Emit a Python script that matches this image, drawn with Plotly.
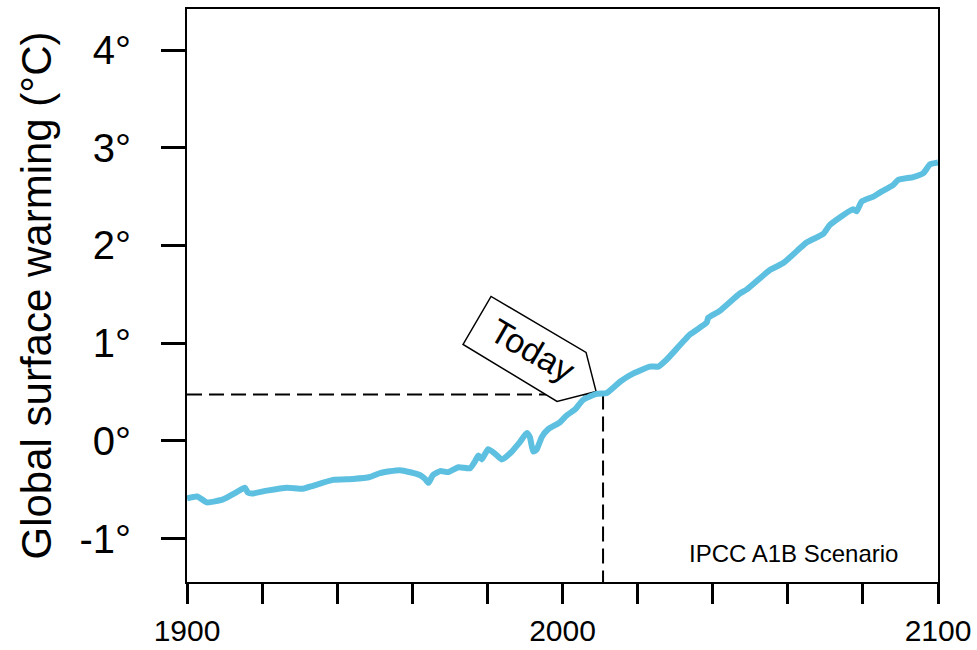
import plotly.graph_objects as go

# Global mean surface temperature anomaly, observed record then A1B projection
years = [1900, 1902.7, 1905.3, 1909.6, 1913.0, 1915.4, 1916.2, 1917.3, 1921.3, 1926.6,
         1930.9, 1933.6, 1938.9, 1944.2, 1948.7, 1951.4, 1956.7, 1962.0, 1963.4, 1964.3,
         1965.5, 1967.4, 1969.6, 1972.3, 1975.4, 1976.7, 1977.6, 1978.5, 1980.2, 1982.0,
         1983.8, 1986.0, 1988.7, 1990.5, 1991.3, 1992.2, 1993.1, 1994.5, 1996.2, 1999.3,
         2001.1, 2003.3, 2005.5, 2009.1, 2011.8, 2015.5, 2018.9, 2023.3, 2025.5, 2027.7,
         2034.0, 2038.4, 2038.8, 2041.9, 2047.3, 2049.1, 2055.3, 2058.8, 2063.2, 2065.0,
         2069.5, 2071.2, 2077.4, 2078.3, 2079.7, 2082.8, 2084.5, 2088.1, 2089.4, 2093.4,
         2096.1, 2097.9, 2100.0]
warming = [-0.59, -0.57, -0.63, -0.60, -0.53, -0.48, -0.53, -0.54, -0.51, -0.48,
           -0.49, -0.46, -0.40, -0.39, -0.37, -0.33, -0.30, -0.35, -0.39, -0.43,
           -0.35, -0.31, -0.32, -0.27, -0.28, -0.21, -0.15, -0.19, -0.085, -0.13,
           -0.19, -0.13, -0.01, 0.08, 0.04, -0.11, -0.09, 0.04, 0.12, 0.19,
           0.26, 0.32, 0.42, 0.48, 0.49, 0.61, 0.69, 0.76, 0.76, 0.83,
           1.09, 1.21, 1.26, 1.33, 1.51, 1.55, 1.75, 1.82, 1.97, 2.03,
           2.12, 2.21, 2.37, 2.35, 2.45, 2.50, 2.54, 2.62, 2.67, 2.70,
           2.74, 2.83, 2.85]

today_year = 2010.8
today_temp = 0.475

x_range = [1900, 2100]
y_range = [-1.445, 4.42]
x_ticks = list(range(1900, 2101, 20))
x_labels = [str(v) if v in (1900, 2000, 2100) else "" for v in x_ticks]
y_ticks = [-1, 0, 1, 2, 3, 4]
y_labels = [f"{v}°" for v in y_ticks]

FONT = "Arial, Liberation Sans, sans-serif"
LINE_BLUE = "#5ec0e0"
DASH = "15px,7px"

fig = go.Figure()
fig.add_trace(go.Scatter(
    x=years, y=warming, mode="lines",
    line=dict(color=LINE_BLUE, width=6, shape="spline", smoothing=0.5),
    hoverinfo="skip", showlegend=False,
))

# dashed guide lines to the present-day point
fig.add_shape(type="line", xref="x", yref="y", x0=x_range[0], x1=today_year,
              y0=today_temp, y1=today_temp, layer="below",
              line=dict(color="black", width=2, dash=DASH))
fig.add_shape(type="line", xref="x", yref="y", x0=today_year, x1=today_year,
              y0=today_temp, y1=y_range[0], layer="below",
              line=dict(color="black", width=2, dash=DASH))

# tag-shaped label pointing at the present-day point (pixel offsets from anchor)
tag = [(-7, 3), (-17, 42), (-112, 98), (-140, 50), (-46, -7)]
path = "M " + " L ".join(f"{dx},{dy}" for dx, dy in tag) + " Z"
fig.add_shape(type="path", path=path, xref="x", yref="y",
              xsizemode="pixel", ysizemode="pixel",
              xanchor=today_year, yanchor=today_temp, layer="below",
              fillcolor="white", line=dict(color="black", width=1.5))

fig.add_annotation(x=today_year, y=today_temp, xref="x", yref="y",
                   text="Today", showarrow=False, textangle=30,
                   xshift=-71, yshift=44,
                   font=dict(family=FONT, size=34, color="black"))

fig.add_annotation(x=1, y=0, xref="paper", yref="paper", xanchor="right", yanchor="bottom",
                   xshift=-38, yshift=13, text="IPCC A1B Scenario", showarrow=False,
                   font=dict(family=FONT, size=24, color="black"))

fig.add_annotation(x=0, y=0.5, xref="paper", yref="paper", xanchor="center", yanchor="middle",
                   xshift=-151, text="Global surface warming (°C)", showarrow=False,
                   textangle=-90, font=dict(family=FONT, size=42, color="black"))

fig.update_xaxes(range=x_range, tickmode="array", tickvals=x_ticks, ticktext=x_labels,
                 ticks="outside", ticklen=20, tickwidth=3, tickcolor="black",
                 showline=True, linecolor="black", linewidth=2, mirror=True,
                 showgrid=False, zeroline=False, ticklabelstandoff=1, automargin=False,
                 tickfont=dict(family=FONT, size=30, color="black"))
fig.update_yaxes(range=y_range, tickmode="array", tickvals=y_ticks, ticktext=y_labels,
                 ticks="outside", ticklen=24, tickwidth=3, tickcolor="black",
                 showline=True, linecolor="black", linewidth=2, mirror=True,
                 showgrid=False, zeroline=False, ticklabelstandoff=22, automargin=False,
                 tickfont=dict(family=FONT, size=40, color="black"))

fig.update_layout(width=977, height=650, margin=dict(l=187, r=39, t=9, b=68),
                  paper_bgcolor="white", plot_bgcolor="white")

fig.write_html("out.html")
